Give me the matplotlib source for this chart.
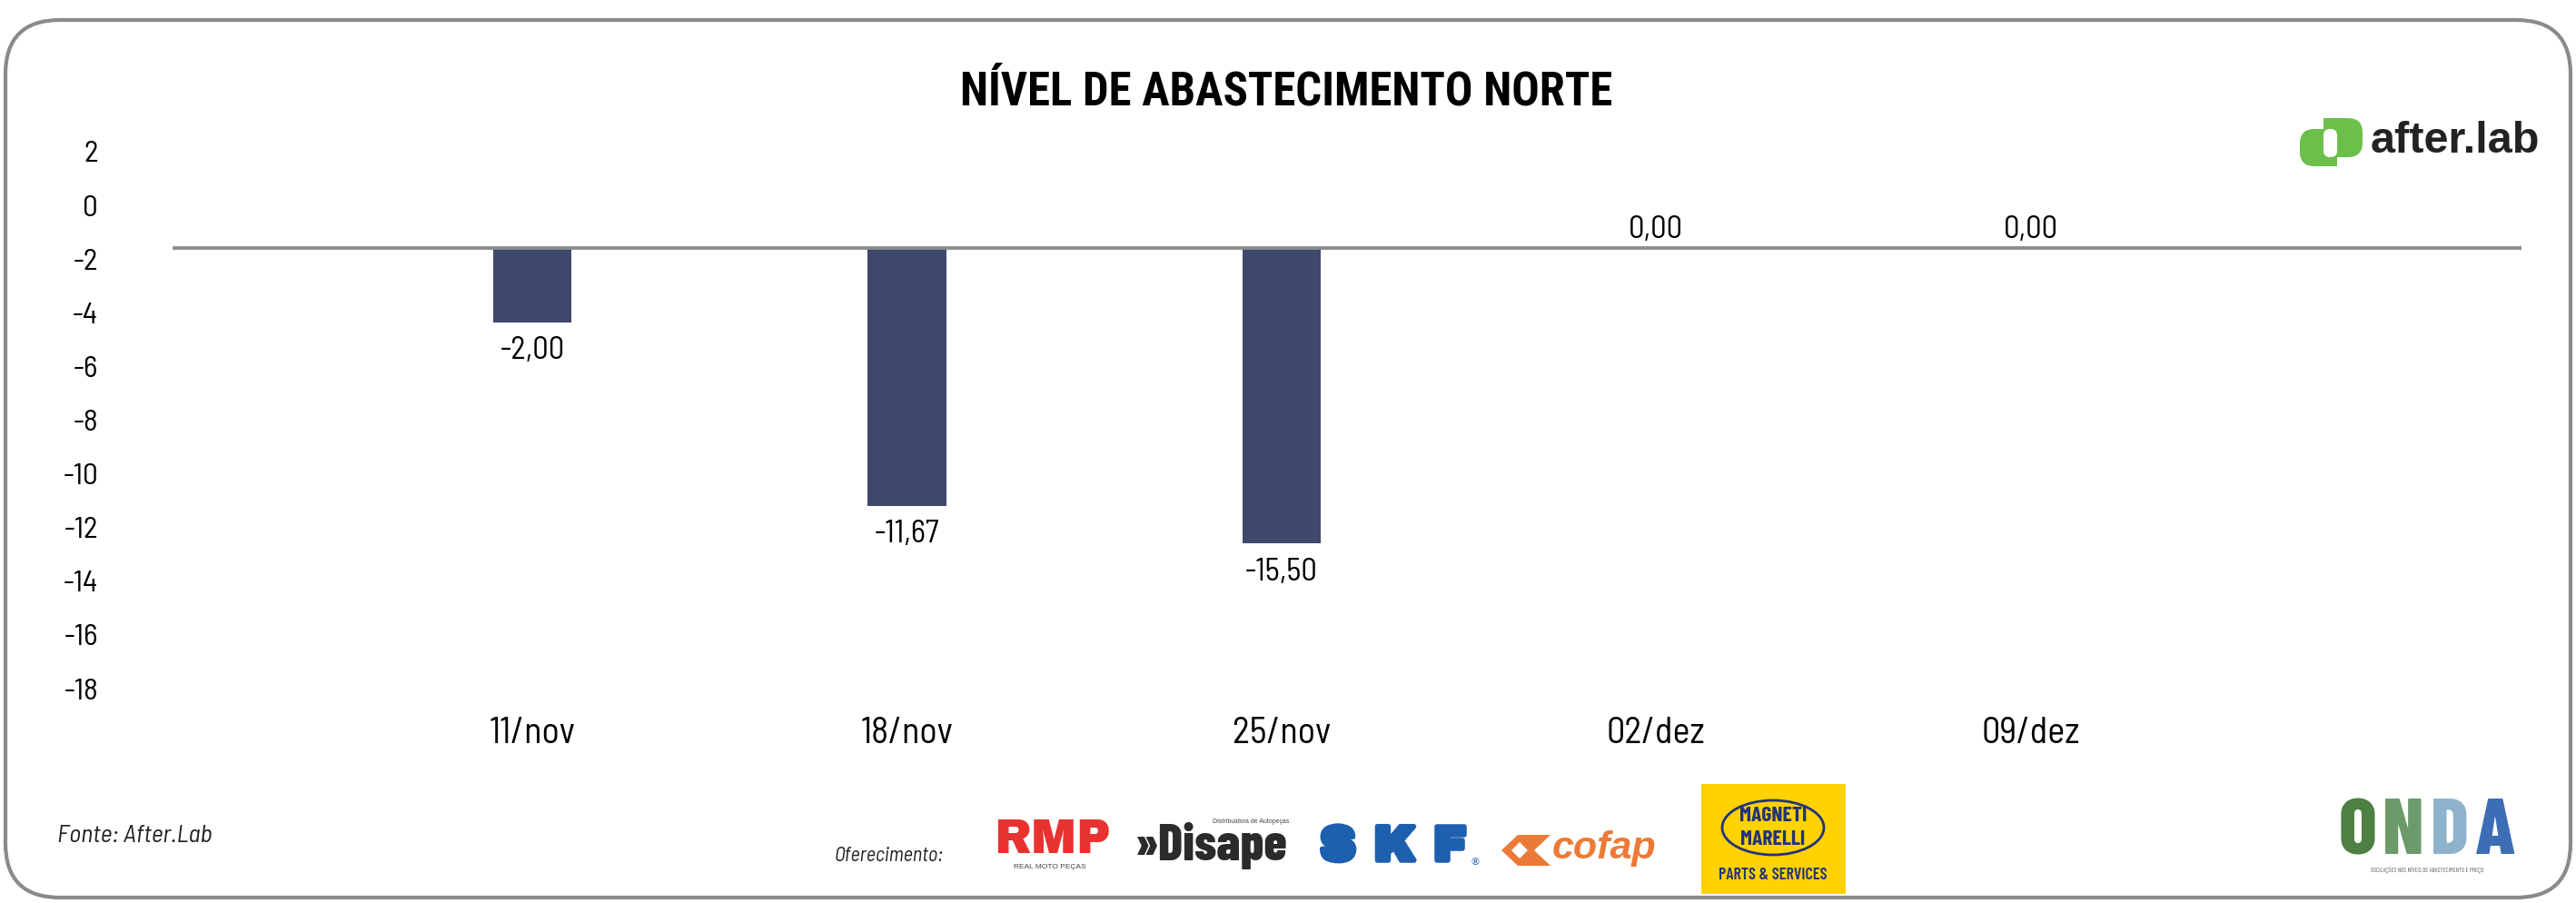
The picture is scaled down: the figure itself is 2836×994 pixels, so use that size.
import numpy as np
import matplotlib
matplotlib.use("Agg")
import matplotlib.pyplot as plt
import matplotlib.patheffects as pe
from matplotlib.patches import FancyBboxPatch, Polygon, Ellipse, Rectangle

# Data
weeks = ["11/nov", "18/nov", "25/nov", "02/dez", "09/dez"]
value_labels = ["-2,00", "-11,67", "-15,50", "0,00", "0,00"]
# where each bar ends on the left scale
bar_levels = [-4.35, -11.2, -12.6, -1.6, -1.6]
axis_cross = -1.6          # horizontal axis crosses here
y_ticks = [2, 0, -2, -4, -6, -8, -10, -12, -14, -16, -18]

W, H = 2836, 994
LIGHT = ["Barlow Semi Condensed", "Barlow Condensed", "Liberation Sans", "DejaVu Sans"]
TITLE = ["Roboto Condensed", "Liberation Sans", "DejaVu Sans"]
SANS = ["Liberation Sans", "DejaVu Sans"]
HEAVY = ["Archivo Black", "Liberation Sans", "DejaVu Sans"]
COND = ["Barlow Condensed", "Roboto Condensed", "Liberation Sans", "DejaVu Sans"]
BAR = "#3f486d"

fig = plt.figure(figsize=(W / 100, H / 100), dpi=100)

# background axes in pixel units (frame, logos, footer)
bg = fig.add_axes([0, 0, 1, 1], zorder=0)
bg.set_xlim(0, W)
bg.set_ylim(H, 0)
bg.axis("off")

frame = FancyBboxPatch((6, 22), W - 12, H - 28, boxstyle="round,pad=0,rounding_size=60",
                       fc="white", ec="#8a8a8a", lw=3)
bg.add_patch(frame)

# title
bg.text(1416, 101, "NÍVEL DE ABASTECIMENTO NORTE", ha="center", va="center",
        fontsize=36.5, weight="bold", family=TITLE, color="black")

# after.lab logo
green = "#6cbf4a"
bg.add_patch(FancyBboxPatch((2532, 142), 41, 41, boxstyle="round,pad=0,rounding_size=16", fc=green, ec="none"))
bg.add_patch(Rectangle((2552, 142), 21, 41, fc=green, ec="none"))
bg.add_patch(FancyBboxPatch((2558, 130), 43, 43, boxstyle="round,pad=0,rounding_size=16", fc=green, ec="none"))
bg.add_patch(Rectangle((2558, 130), 22, 43, fc=green, ec="none"))
bg.add_patch(FancyBboxPatch((2558, 142), 15, 31, boxstyle="round,pad=0,rounding_size=7", fc="white", ec="none"))
bg.text(2610, 156, "after.lab", ha="left", va="center", fontsize=35, weight="bold",
        family=SANS, color="#222222")

# main chart
ax = fig.add_axes([190 / W, 1 - 758 / H, (2776 - 190) / W, (758 - 167) / H], zorder=1)
ax.set_facecolor("none")
x = np.arange(len(weeks))
heights = [v - axis_cross for v in bar_levels]
bars = ax.bar(x, heights, bottom=axis_cross, width=0.21, color=BAR, zorder=2)
ax.axhline(axis_cross, color="#8c8c8c", lw=2.8, zorder=3)
neg_labels = [s if h < 0 else "" for s, h in zip(value_labels, heights)]
zero_labels = [s if h >= 0 else "" for s, h in zip(value_labels, heights)]
ax.bar_label(bars, labels=neg_labels, padding=11, fontsize=25, family=LIGHT)
ax.bar_label(bars, labels=zero_labels, padding=3, fontsize=25, family=LIGHT)

ax.set_xlim(-0.96, 5.31)
ax.set_ylim(-18, 2)
ax.set_yticks(y_ticks)
ax.set_yticklabels([str(t) for t in y_ticks])
ax.set_xticks(x, weeks)
ax.tick_params(axis="y", length=0, pad=59, labelsize=24)
ax.tick_params(axis="x", length=0, pad=22, labelsize=29)
for lab in ax.get_xticklabels() + ax.get_yticklabels():
    lab.set_family(LIGHT)
for s in ax.spines.values():
    s.set_visible(False)

# footer
bg.text(63, 920, "Fonte: After.Lab", ha="left", va="center", fontsize=20,
        style="italic", family=LIGHT, color="#222222")
bg.text(919, 943, "Oferecimento:", ha="left", va="center", fontsize=16,
        style="italic", family=LIGHT, color="#222222")

# RMP
bg.text(1159, 925, "RMP", ha="center", va="center", fontsize=38,
        family=HEAVY, color="#e8322f")
bg.text(1156, 955, "REAL MOTO PEÇAS", ha="center", va="center", fontsize=6,
        family=SANS, color="#444444")

# Disape
bg.text(1250, 931, "»Disape", ha="left", va="center", fontsize=41, weight="heavy",
        family=COND, color="#2b2b2b")
bg.text(1419, 905, "Distribuidora de Autopeças", ha="right", va="center", fontsize=5,
        family=SANS, color="#444444")

# SKF
skf = "#1f5fb0"
for ch, cx in zip("SKF", [1473, 1535, 1596]):
    bg.text(cx, 933, ch, ha="center", va="center", fontsize=39, family=HEAVY, color=skf,
            path_effects=[pe.withStroke(linewidth=4, foreground=skf)])
bg.text(1624, 949, "®", ha="center", va="center", fontsize=8, color=skf)

# cofap
cofap = "#ec7a36"
bg.add_patch(Polygon([(1653, 936), (1671, 919), (1707, 919), (1689, 936), (1707, 953), (1671, 953)],
                     closed=True, fc=cofap, ec="none"))
bg.add_patch(Polygon([(1664, 936), (1673, 927), (1682, 936), (1673, 945)], closed=True, fc="white", ec="none"))
bg.text(1709, 934, "cofap", ha="left", va="center", fontsize=31, weight="bold",
        style="italic", family=SANS, color=cofap)

# Magneti Marelli
navy = "#23337a"
bg.add_patch(Rectangle((1873, 863), 159, 121, fc="#ffd200", ec="none"))
bg.add_patch(Ellipse((1952, 911), 112, 60, fc="none", ec=navy, lw=2))
bg.text(1952, 898, "MAGNETI", ha="center", va="center", fontsize=17, weight="bold",
        family=COND, color=navy)
bg.text(1952, 924, "MARELLI", ha="center", va="center", fontsize=17, weight="bold",
        family=COND, color=navy)
bg.text(1952, 963, "PARTS & SERVICES", ha="center", va="center", fontsize=13, weight="semibold",
        family=COND, color=navy)

# ONDA logo, one colour per letter for the green-to-blue photo fill
onda_letters = ["O", "N", "D", "A"]
onda_colors = ["#4e7f43", "#6d9a6a", "#8fb2cc", "#3d6db5"]
onda_x = [2596, 2646, 2697, 2747]
for ch, c, cx in zip(onda_letters, onda_colors, onda_x):
    bg.text(cx, 918, ch, ha="center", va="center", fontsize=63, weight="heavy",
            family=COND, color=c)
bg.text(2672, 957, "OSCILAÇÕES NOS NÍVEIS DE ABASTECIMENTO E PREÇO", ha="center", va="center",
        fontsize=5, family=COND, color="#666666")

fig.savefig("out.png", dpi=100)
